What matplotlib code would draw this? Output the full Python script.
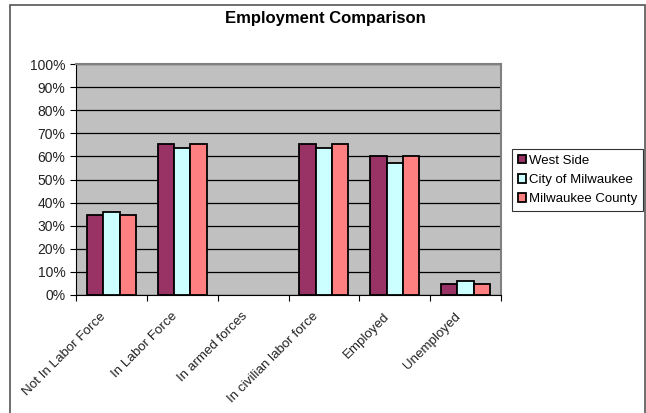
import matplotlib.pyplot as plt
import numpy as np
from matplotlib.patches import Rectangle

categories = ["Not In Labor Force", "In Labor Force", "In armed forces",
              "In civilian labor force", "Employed", "Unemployed"]
west_side = [34.6, 65.2, 0.0, 65.2, 60.3, 4.7]
city_milwaukee = [36.0, 63.8, 0.0, 63.8, 57.3, 6.2]
milwaukee_county = [34.6, 65.2, 0.0, 65.2, 60.3, 4.7]
series_names = ["West Side", "City of Milwaukee", "Milwaukee County"]
colors = ["#993366", "#CCFFFF", "#FF8080"]
yticks = list(range(0, 101, 10))

fig = plt.figure(figsize=(6.46, 4.13), dpi=100)
fig.patches.append(Rectangle((10 / 646, -0.01), 635 / 646, 1 - 5 / 413 + 0.01,
                             transform=fig.transFigure, fill=False,
                             edgecolor="#555555", linewidth=1.2))

ax = fig.add_axes([76 / 646, 1 - 295 / 413, 425 / 646, 231 / 413])
ax.set_facecolor("#C0C0C0")

x = np.arange(len(categories))
w = 0.23
for i, (vals, name, c) in enumerate(zip([west_side, city_milwaukee, milwaukee_county],
                                        series_names, colors)):
    bars = ax.bar(x + (i - 1) * w, vals, w, color=c, edgecolor="black",
                  linewidth=1.3, label=name, zorder=3)
    for b, v in zip(bars, vals):
        if v == 0:
            b.set_visible(False)

ax.set_xlim(-0.5, len(categories) - 0.5)
ax.set_ylim(0, 100)
ax.set_yticks(yticks)
ax.set_yticklabels([f"{t}%" for t in yticks], fontsize=10, family="Liberation Sans",
                   color="#222222")
ax.yaxis.grid(True, color="black", linewidth=0.9, zorder=0)
ax.set_xticks(np.arange(len(categories) + 1) - 0.5, minor=False)
ax.set_xticklabels([])
ax.set_xticks(x - 0.16, minor=True)
ax.set_xticklabels(categories, minor=True, rotation=45, ha="right",
                   rotation_mode="anchor", fontsize=9.6, family="Liberation Sans",
                   color="#222222")
ax.tick_params(axis="x", which="minor", length=0, pad=11)
ax.tick_params(axis="x", which="major", length=4, direction="out")
ax.tick_params(axis="y", length=4, direction="out")
for s in ["top", "right"]:
    ax.spines[s].set_color("#808080")
    ax.spines[s].set_linewidth(1.5)
ax.spines["left"].set_color("black")
ax.spines["bottom"].set_color("black")

fig.text(325 / 646, 1 - 19 / 413, "Employment Comparison", ha="center", va="center",
         fontsize=12, fontweight="bold", family="Liberation Sans")

leg = ax.legend(loc="center left", bbox_to_anchor=(512 / 646, 1 - 180 / 413),
                bbox_transform=fig.transFigure, fancybox=False, edgecolor="black",
                handlelength=0.6, handleheight=0.6, handletextpad=0.25,
                borderpad=0.45, labelspacing=0.55, borderaxespad=0,
                prop={"family": "Liberation Sans", "size": 9.5})
leg.get_frame().set_linewidth(0.8)

plt.savefig("out.png", dpi=100)
